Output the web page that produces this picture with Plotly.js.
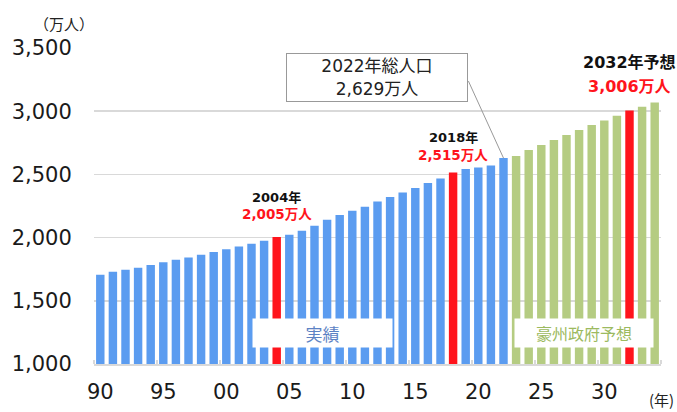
<!DOCTYPE html>
<html>
<head>
<meta charset="utf-8">
<script src="https://cdn.plot.ly/plotly-3.0.1.min.js"></script>
<style>
  html, body { margin: 0; padding: 0; background: #ffffff; }
  #chart { width: 677px; height: 412px; }
</style>
</head>
<body>
<div id="chart"></div>
<script>
// ---- Data ----
const years = [1990, 1991, 1992, 1993, 1994, 1995, 1996, 1997, 1998, 1999,
               2000, 2001, 2002, 2003, 2004, 2005, 2006, 2007, 2008, 2009,
               2010, 2011, 2012, 2013, 2014, 2015, 2016, 2017, 2018, 2019,
               2020, 2021, 2022, 2023, 2024, 2025, 2026, 2027, 2028, 2029,
               2030, 2031, 2032, 2033, 2034];
// population, 万人
const population = [1706, 1730, 1746, 1762, 1783, 1804, 1825, 1843, 1864, 1886,
                    1907, 1930, 1952, 1975, 2005, 2023, 2054, 2094, 2141, 2178,
                    2213, 2244, 2286, 2321, 2357, 2392, 2432, 2468, 2515, 2542,
                    2555, 2571, 2629, 2645, 2693, 2732, 2772, 2811, 2851, 2890,
                    2927, 2964, 3006, 3035, 3069];
const highlightYears = [2004, 2018, 2032];
const lastActualYear = 2022;
const tickYears = [1990, 1995, 2000, 2005, 2010, 2015, 2020, 2025, 2030];
const tickLabels = ['90', '95', '00', '05', '10', '15', '20', '25', '30'];
const boundaryYears = [1989.5, 1994.5, 1999.5, 2004.5, 2009.5, 2014.5, 2019.5, 2024.5, 2029.5, 2034.5];

// ---- Styles ----
const BLUE = 'rgb(91,156,240)';
const GREEN = 'rgb(181,204,130)';
const RED = 'rgb(255,20,28)';
const GRID = '#d9d9d9';
const NUM_FONT = 'DejaVu Sans, Noto Sans CJK JP, sans-serif';
const JP_FONT = 'Noto Sans CJK JP, sans-serif';

const colors = years.map(y => highlightYears.includes(y) ? RED : (y <= lastActualYear ? BLUE : GREEN));
const fmt = v => v.toLocaleString('en-US');
const popOf = y => population[years.indexOf(y)];

const trace = {
  type: 'bar',
  x: years,
  y: population,
  marker: { color: colors, line: { width: 0 } },
  hoverinfo: 'x+y'
};

const annotations = [
  // y-axis unit
  { xref: 'paper', yref: 'paper', x: -0.0534, y: 1.076, text: '（万人）', showarrow: false,
    xanchor: 'center', yanchor: 'middle', font: { family: JP_FONT, size: 15, color: '#222' } },
  // x-axis unit
  { xref: 'paper', yref: 'paper', x: 1.026, y: -0.152, text: '(年)', showarrow: false,
    xanchor: 'right', yanchor: 'bottom', font: { family: JP_FONT, size: 15, color: '#222' } },

  // 2004
  { x: 2004, y: 2320, text: '<b>2004年</b>', showarrow: false, yanchor: 'middle',
    font: { family: NUM_FONT, size: 13, color: '#111' } },
  { x: 2004, y: 2188, text: '<b>' + fmt(popOf(2004)) + '万人</b>', showarrow: false, yanchor: 'middle',
    font: { family: NUM_FONT, size: 13.5, color: RED } },
  // 2018
  { x: 2018, y: 2794, text: '<b>2018年</b>', showarrow: false, yanchor: 'middle',
    font: { family: NUM_FONT, size: 13, color: '#111' } },
  { x: 2018, y: 2655, text: '<b>' + fmt(popOf(2018)) + '万人</b>', showarrow: false, yanchor: 'middle',
    font: { family: NUM_FONT, size: 13.5, color: RED } },
  // 2032
  { x: 2032, y: 3388, text: '<b>2032年予想</b>', showarrow: false, yanchor: 'middle',
    font: { family: NUM_FONT, size: 16, color: '#111' } },
  { x: 2032, y: 3192, text: '<b>' + fmt(popOf(2032)) + '万人</b>', showarrow: false, yanchor: 'middle',
    font: { family: NUM_FONT, size: 16, color: RED } },

  // 2022 callout box
  { x: 2011.94, y: 3264, text: '2022年総人口<br>' + fmt(popOf(2022)) + '万人', showarrow: false,
    xanchor: 'center', yanchor: 'middle', align: 'center',
    width: 178, height: 45, borderpad: 1, borderwidth: 1, bordercolor: '#999', bgcolor: '#fff',
    font: { family: NUM_FONT, size: 17, color: '#222' } },
  // callout leader line
  { x: 2022, y: popOf(2022), text: ' ', showarrow: true, arrowhead: 0, arrowwidth: 1,
    arrowcolor: '#999', ax: -36, ay: -79, standoff: 0, font: { size: 1 } },

  // section labels
  { x: 2007.61, y: 1249, text: '実績', showarrow: false, xanchor: 'center', yanchor: 'middle',
    width: 135, height: 24, borderpad: 2, bgcolor: '#fff',
    font: { family: JP_FONT, size: 17, color: 'rgb(92,130,196)' } },
  { x: 2028.36, y: 1249, text: '豪州政府予想', showarrow: false, xanchor: 'center', yanchor: 'middle',
    width: 134, height: 24, borderpad: 2, bgcolor: '#fff',
    font: { family: JP_FONT, size: 16, color: 'rgb(156,186,96)' } }
];

const layout = {
  width: 677,
  height: 412,
  margin: { l: 94, r: 16, t: 48, b: 48 },
  paper_bgcolor: '#fff',
  plot_bgcolor: '#fff',
  showlegend: false,
  bargap: 0.33,
  xaxis: {
    type: 'linear',
    range: [1989.5, 2034.5],
    tickmode: 'array',
    tickvals: tickYears,
    ticktext: tickLabels,
    ticks: 'outside',
    ticklen: 8,
    tickcolor: 'rgba(0,0,0,0)',
    tickfont: { family: NUM_FONT, size: 21, color: '#1a1a1a' },
    showgrid: false,
    zeroline: false,
    showline: true,
    linecolor: GRID,
    linewidth: 2,
    minor: { tickmode: 'array', tickvals: boundaryYears, ticks: 'inside', ticklen: 4, tickcolor: GRID, tickwidth: 1.5, showgrid: false },
    fixedrange: true
  },
  yaxis: {
    range: [1000, 3500],
    tickmode: 'linear',
    tick0: 1000,
    dtick: 500,
    tickformat: ',',
    ticks: 'outside',
    ticklen: 17,
    tickcolor: 'rgba(0,0,0,0)',
    tickfont: { family: NUM_FONT, size: 21, color: '#1a1a1a' },
    showgrid: true,
    gridcolor: GRID,
    gridwidth: 1.5,
    zeroline: false,
    showline: false,
    fixedrange: true
  },
  annotations: annotations
};

Plotly.newPlot('chart', [trace], layout, { displayModeBar: false, staticPlot: true });
</script>
</body>
</html>
